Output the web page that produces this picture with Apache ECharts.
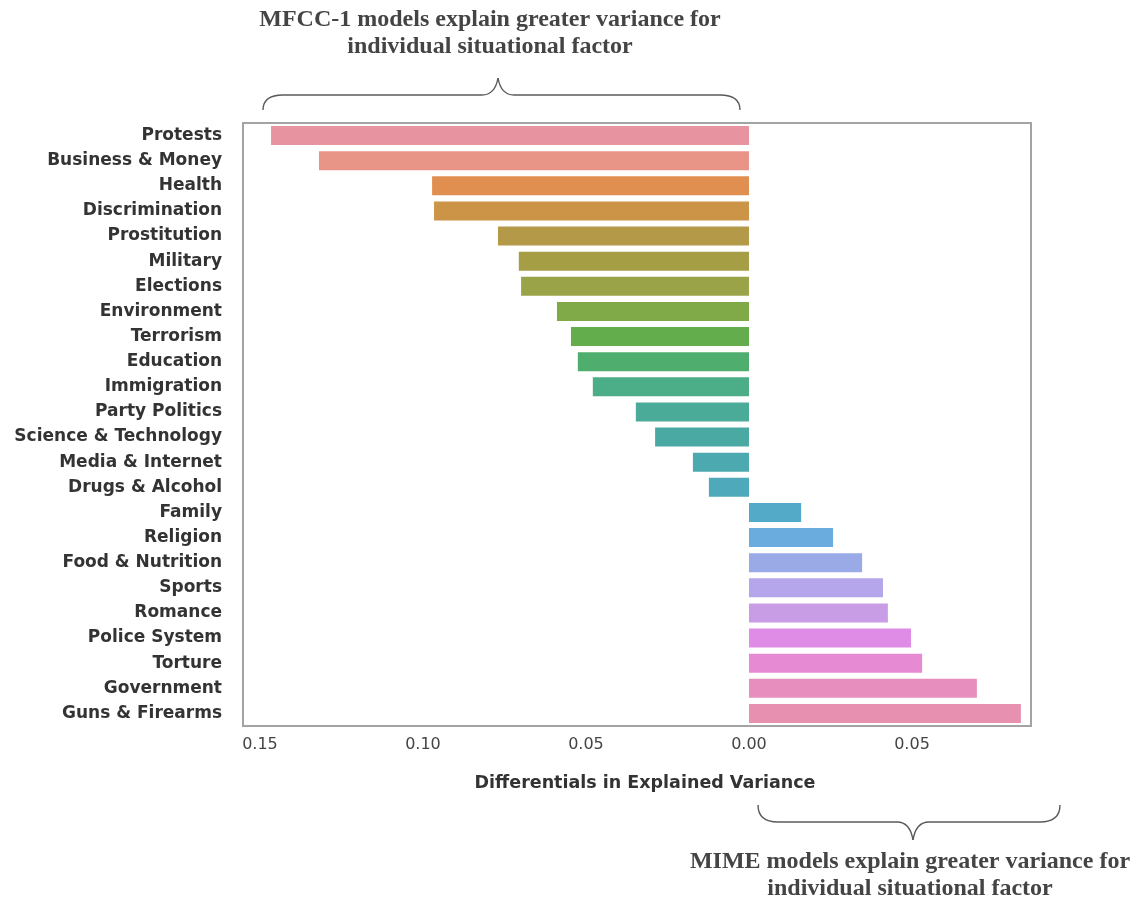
<!DOCTYPE html>
<html>
<head>
<meta charset="utf-8">
<script src="https://cdn.jsdelivr.net/npm/echarts@6/dist/echarts.min.js"></script>
<style>
html,body{margin:0;padding:0;background:#fff;}
#chart{width:1136px;height:904px;}
</style>
</head>
<body>
<div id="chart"></div>
<script>
// Categories (top to bottom)
const categories = [
  "Protests","Business & Money","Health","Discrimination","Prostitution","Military",
  "Elections","Environment","Terrorism","Education","Immigration","Party Politics",
  "Science & Technology","Media & Internet","Drugs & Alcohol","Family","Religion",
  "Food & Nutrition","Sports","Romance","Police System","Torture","Government","Guns & Firearms"
];
// Differentials in explained variance (negative = MFCC-1 better, positive = MIME better)
const differentials = [
  -0.1466,-0.1319,-0.0972,-0.0966,-0.0770,-0.0706,
  -0.0699,-0.0589,-0.0546,-0.0525,-0.0479,-0.0347,
  -0.0288,-0.0172,-0.0123,0.0160,0.0258,
  0.0347,0.0411,0.0426,0.0497,0.0531,0.0699,0.0834
];
// Tick labels shown on x axis (signed positions; displayed as absolute values)
const xTicks = [-0.15,-0.10,-0.05,0.00,0.05];
const xAxisTitle = "Differentials in Explained Variance";
const topNote = ["MFCC-1 models explain greater variance for","individual situational factor"];
const bottomNote = ["MIME models explain greater variance for","individual situational factor"];

const palette = [
  "#e893a0","#e89587","#e08f50","#cb9447","#b49a48","#a59e45",
  "#9aa347","#80a947","#63ad4c","#4fad6e","#4bae88","#4aac98",
  "#4ba9a4","#4ba9af","#4ea9bb","#52a9c8","#6aacde",
  "#9aaae6","#b5a5eb","#c99de6","#df8ce6","#e68ad4","#e88ebf","#e890b0"
];

const chart = echarts.init(document.getElementById('chart'), null, {renderer:'canvas'});
const gridL = 243, gridR = 1031, gridT = 123, gridB = 726;

const serif = '"Liberation Serif","DejaVu Serif",serif';
const noteStyle = {fontFamily: serif, fontWeight: 'bold', fontSize: 24, fill: '#444', textAlign: 'center', textVerticalAlign: 'middle'};
const braceStyle = {fill: 'none', stroke: '#5a5a5a', lineWidth: 1.4};

// brace builder: ends at (x0,yEnd) and (x1,yEnd), bar at yBar, tip at (xt, yTip)
function brace(x0, x1, xt, yEnd, yBar, yTip) {
  const r = 20 * Math.sign(x1 - x0);
  const els = [];
  els.push({type: 'bezierCurve', shape: {x1: x0, y1: yEnd, x2: x0 + r, y2: yBar, cpx1: x0, cpy1: yBar}, style: braceStyle});
  els.push({type: 'line', shape: {x1: x0 + r, y1: yBar, x2: xt - 16, y2: yBar}, style: braceStyle});
  els.push({type: 'bezierCurve', shape: {x1: xt - 16, y1: yBar, x2: xt, y2: yTip, cpx1: xt - 3, cpy1: yBar}, style: braceStyle});
  els.push({type: 'bezierCurve', shape: {x1: xt, y1: yTip, x2: xt + 16, y2: yBar, cpx1: xt + 3, cpy1: yBar}, style: braceStyle});
  els.push({type: 'line', shape: {x1: xt + 16, y1: yBar, x2: x1 - r, y2: yBar}, style: braceStyle});
  els.push({type: 'bezierCurve', shape: {x1: x1 - r, y1: yBar, x2: x1, y2: yEnd, cpx1: x1, cpy1: yBar}, style: braceStyle});
  return els;
}

chart.setOption({
  animation: false,
  grid: {left: gridL, right: 1136 - gridR, top: gridT, bottom: 904 - gridB, show: true,
         borderColor: '#a3a3a3', borderWidth: 2, backgroundColor: 'transparent'},
  xAxis: {
    type: 'value', min: -0.1552, max: 0.0865,
    axisLine: {show: false}, axisTick: {show: false}, splitLine: {show: false},
    axisLabel: {
      customValues: xTicks, margin: 11,
      fontFamily: '"DejaVu Sans",sans-serif', fontSize: 16, color: '#444',
      formatter: v => Math.abs(v).toFixed(2)
    }
  },
  yAxis: {
    type: 'category', data: categories, inverse: true,
    axisLine: {show: false}, axisTick: {show: false}, splitLine: {show: false},
    axisLabel: {margin: 21, padding: [4, 0, 0, 0], fontFamily: '"DejaVu Sans",sans-serif', fontWeight: 'bold', fontSize: 17, color: '#333'}
  },
  series: [{
    type: 'bar', barCategoryGap: '24%',
    data: differentials.map((v, i) => ({value: v, itemStyle: {color: palette[i]}}))
  }],
  graphic: [
    {type: 'text', style: {
      text: xAxisTitle, x: 645, y: 783, fontFamily: '"DejaVu Sans",sans-serif', fontWeight: 'bold',
      fontSize: 17.5, fill: '#333', textAlign: 'center', textVerticalAlign: 'middle'}},
    {type: 'text', style: Object.assign({}, noteStyle, {text: topNote[0], x: 490, y: 20})},
    {type: 'text', style: Object.assign({}, noteStyle, {text: topNote[1], x: 490, y: 47})},
    {type: 'text', style: Object.assign({}, noteStyle, {text: bottomNote[0], x: 910, y: 862})},
    {type: 'text', style: Object.assign({}, noteStyle, {text: bottomNote[1], x: 910, y: 889})}
  ].concat(brace(263, 740, 498, 110, 95, 78)).concat(brace(758, 1060, 913, 805, 822, 840))
});
</script>
</body>
</html>
